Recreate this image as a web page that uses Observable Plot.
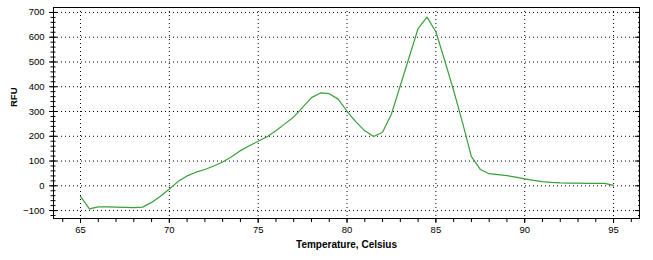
<!DOCTYPE html>
<html><head><meta charset="utf-8">
<script src="https://cdn.jsdelivr.net/npm/d3@7"></script>
<script src="https://cdn.jsdelivr.net/npm/@observablehq/plot@0.6"></script>
<style>
body{margin:0;background:#fff;}
#chart{width:653px;height:260px;}
</style></head><body><div id="chart"></div>
<script>
const temperature = [65, 65.5, 66, 66.5, 67, 67.5, 68, 68.5, 69, 69.5, 70, 70.5, 71, 71.5, 72, 72.5, 73, 73.5, 74, 74.5, 75, 75.5, 76, 76.5, 77, 77.5, 78, 78.5, 79, 79.5, 80, 80.5, 81, 81.5, 82, 82.5, 83, 83.5, 84, 84.5, 85, 85.5, 86, 86.5, 87, 87.5, 88, 88.5, 89, 89.5, 90, 90.5, 91, 91.5, 92, 92.5, 93, 93.5, 94, 94.5, 95];
const rfu = [-43, -93, -85, -85, -86, -87, -88, -86, -67, -42, -13, 18, 40, 55, 66, 80, 96, 117, 142, 162, 180, 198, 222, 250, 278, 317, 356, 375, 372, 350, 301, 258, 222, 199, 216, 290, 405, 520, 635, 681, 622, 505, 385, 255, 118, 66, 49, 45, 41, 35, 28, 22, 17, 14, 12, 11, 11, 10, 10, 10, 2];
const xMajorTicks = [65, 70, 75, 80, 85, 90, 95];
const xMinorTicks = [64, 65, 66, 67, 68, 69, 70, 71, 72, 73, 74, 75, 76, 77, 78, 79, 80, 81, 82, 83, 84, 85, 86, 87, 88, 89, 90, 91, 92, 93, 94, 95, 96];
const yMajorTicks = [-100, 0, 100, 200, 300, 400, 500, 600, 700];
const yMinorTicks = [-120, -100, -80, -60, -40, -20, 0, 20, 40, 60, 80, 100, 120, 140, 160, 180, 200, 220, 240, 260, 280, 300, 320, 340, 360, 380, 400, 420, 440, 460, 480, 500, 520, 540, 560, 580, 600, 620, 640, 660, 680, 700];
const xLabel = "Temperature, Celsius";
const yLabel = "RFU";

const data = temperature.map((t, i) => ({t, v: rfu[i]}));

const chart = Plot.plot({
  width: 653,
  height: 260,
  marginLeft: 53,
  marginRight: 14,
  marginTop: 7,
  marginBottom: 42,
  style: {fontFamily: "'Liberation Sans', Arial, sans-serif", fontSize: "9.5px", color: "black", background: "white"},
  x: {domain: [63.48, 96.46]},
  y: {domain: [-132, 720]},
  marks: [
    Plot.gridY(yMajorTicks, {stroke: "black", strokeOpacity: 1, strokeDasharray: "1,3"}),
    Plot.gridX(xMajorTicks, {stroke: "black", strokeOpacity: 1, strokeDasharray: "1,3"}),
    Plot.line(data, {x: "t", y: "v", stroke: "#3a9f3a", strokeWidth: 1.2}),
    Plot.frame({stroke: "black"}),
    // left axis ticks (crossing the axis line)
    Plot.axisY(yMajorTicks, {anchor: "left", tickSize: 8, dx: 4, fill: "none", label: null}),
    Plot.axisY(yMinorTicks, {anchor: "left", tickSize: 5, dx: 2.5, fill: "none", label: null}),
    Plot.axisY(yMajorTicks, {anchor: "left", tickSize: 0, tickPadding: 9, stroke: "none", label: null}),
    // right inward ticks
    Plot.axisY(yMajorTicks, {anchor: "right", tickSize: 5, dx: -5, fill: "none", label: null}),
    Plot.axisY(yMinorTicks, {anchor: "right", tickSize: 2, dx: -2, fill: "none", label: null}),
    // bottom axis
    Plot.axisX(xMajorTicks, {anchor: "bottom", tickSize: 5, fill: "none", label: null}),
    Plot.axisX(xMinorTicks, {anchor: "bottom", tickSize: 4, fill: "none", label: null}),
    Plot.axisX(xMajorTicks, {anchor: "bottom", tickSize: 0, tickPadding: 8, stroke: "none", label: null}),
    Plot.text([xLabel], {frameAnchor: "bottom", dy: 29.5, fontWeight: "bold", fontSize: 10, fill: "black"}),
    Plot.text([yLabel], {frameAnchor: "left", dx: -40, dy: -6, rotate: -90, fontWeight: "bold", fontSize: 9.5, fill: "black"})
  ]
});
document.getElementById("chart").appendChild(chart);
</script>
</body></html>
